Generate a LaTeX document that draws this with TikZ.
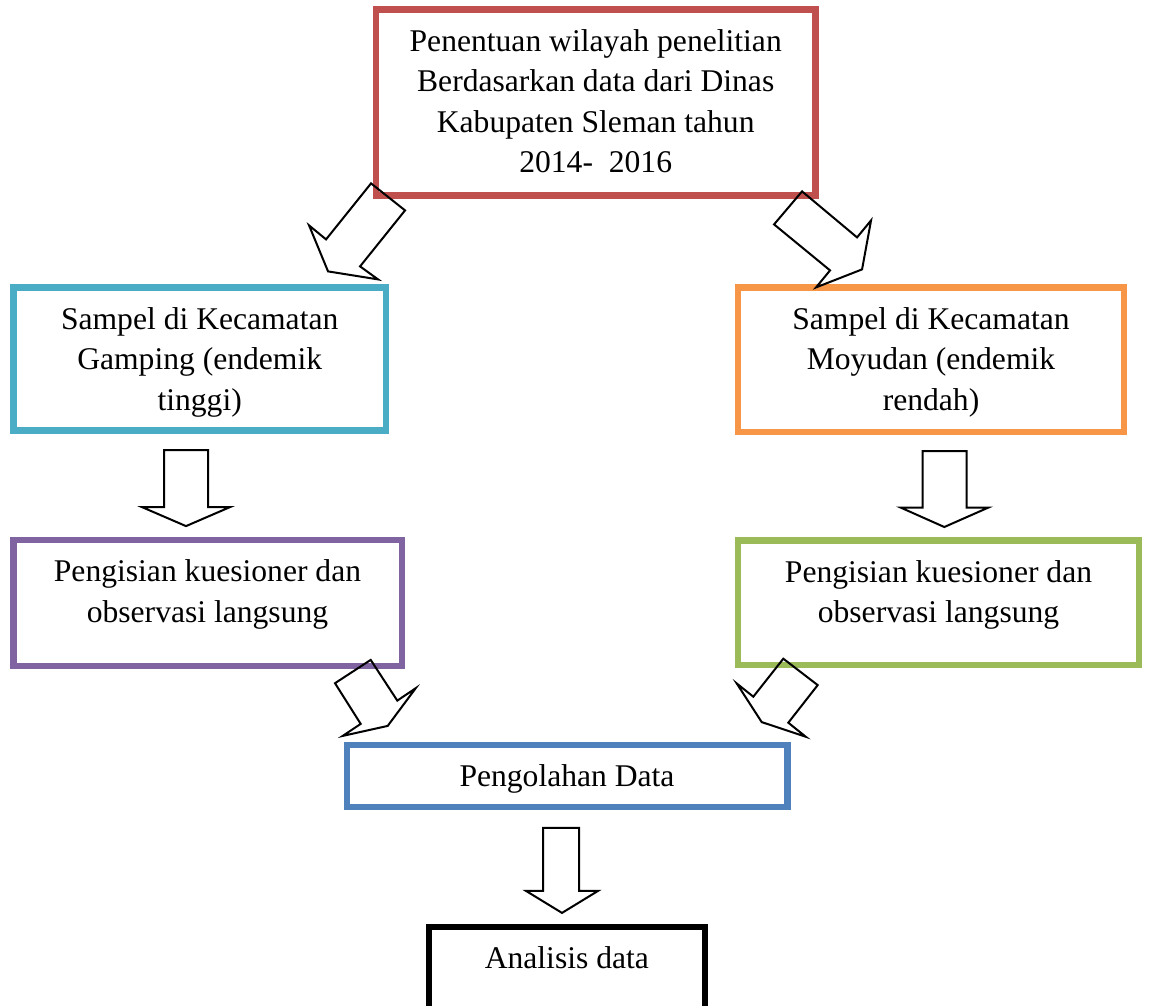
\documentclass[tikz,border=0pt]{standalone}
\usepackage{fontspec}
\setmainfont{Liberation Serif}
\usepackage{tikz}
\usetikzlibrary{positioning}
\definecolor{boxred}{RGB}{192,80,77}
\definecolor{boxcyan}{RGB}{75,172,198}
\definecolor{boxorange}{RGB}{247,150,70}
\definecolor{boxpurple}{RGB}{128,100,162}
\definecolor{boxgreen}{RGB}{155,187,89}
\definecolor{boxblue}{RGB}{79,129,189}
\begin{document}
\begin{tikzpicture} [
                x=0.5pt, y=-0.5pt,
                box/.style = {draw, line width=3.2pt, outer sep=0pt, inner ysep=0pt, anchor=north, align=center, text height=20.8pt, font=\fontsize{15.8}{20.25}\selectfont},
                blockarrow/.style = {draw, line width=1pt}
            ]
            \useasboundingbox (0,0) rectangle (1149,1005);
            \clip (0,0) rectangle (1149,1005);
            \node (penentuan) at (595.7, 9.5) [box, draw=boxred, minimum width=219.65pt, text height=81.55pt, text depth=11.5pt] {Penentuan wilayah penelitian\\Berdasarkan data dari Dinas\\Kabupaten Sleman tahun\\2014-\ \ 2016};
            \node (gamping) at (199.7, 287.5) [box, draw=boxcyan, minimum width=186.35pt, text height=61.3pt, text depth=10.25pt] {Sampel di Kecamatan\\Gamping (endemik\\tinggi)};
            \node (moyudan) at (931, 287.7) [box, draw=boxorange, minimum width=193pt, text height=61.3pt, text depth=10.75pt] {Sampel di Kecamatan\\Moyudan (endemik\\rendah)};
            \node (isigamping) at (207.5, 540) [box, draw=boxpurple, minimum width=194.2pt, text height=41.05pt, text depth=21.9pt] {Pengisian kuesioner dan\\observasi langsung};
            \node (isimoyudan) at (938.5, 540.5) [box, draw=boxgreen, minimum width=200.5pt, text height=41.05pt, text depth=21.15pt] {Pengisian kuesioner dan\\observasi langsung};
            \node (olah) at (567, 745) [box, draw=boxblue, minimum width=220.3pt, text depth=10.3pt] {Pengolahan Data};
            \node (analisis) at (566.85, 926.7) [box, draw=black, minimum width=137.85pt, text depth=60pt] {Analisis data};
            % block arrows
            \draw [blockarrow, shift={(penentuan.south west)}] (-5,-12.2) -- (29,14.8) -- (-16,70.8) -- (2,83.8) -- (-48,75.8) -- (-67,29.8) -- (-50,43.8) -- cycle;
            \draw [blockarrow, shift={(penentuan.south east)}] (-13.3,-4.2) -- (41.7,41.8) -- (55.7,24.8) -- (46.7,73.8) -- (0.7,91.8) -- (14.7,74.8) -- (-41.3,28.8) -- cycle;
            \draw [blockarrow, shift={(gamping.south)}] (-35.7,19.5) -- (8.3,19.5) -- (8.3,76.5) -- (30.3,76.5) -- (-13.7,95.5) -- (-57.7,76.5) -- (-35.7,76.5) -- cycle;
            \draw [blockarrow, shift={(moyudan.south)}] (-8.3,19.2) -- (35.7,19.2) -- (35.7,75.8) -- (57.3,75.8) -- (13.3,95.2) -- (-30.3,75.8) -- (-8.3,75.8) -- cycle;
            \draw [blockarrow, shift={(isigamping.south east)}] (-31,-6) -- (-4.4,34.7) -- (14,22.3) -- (-14,60) -- (-59,70) -- (-41,58) -- (-66.7,17.3) -- cycle;
            \draw [blockarrow, shift={(isimoyudan.south west)}] (45.3,-6.2) -- (79.7,20.2) -- (50.3,57.8) -- (67.7,71.8) -- (23.7,57.2) -- (-1.3,18.5) -- (15.3,31.8) -- cycle;
            \draw [blockarrow, shift={(olah.south)}] (-24,20.7) -- (12,20.7) -- (12,83.7) -- (31,83.7) -- (-5,105.7) -- (-41,83.7) -- (-24,83.7) -- cycle;
        \end{tikzpicture}
\end{document}
